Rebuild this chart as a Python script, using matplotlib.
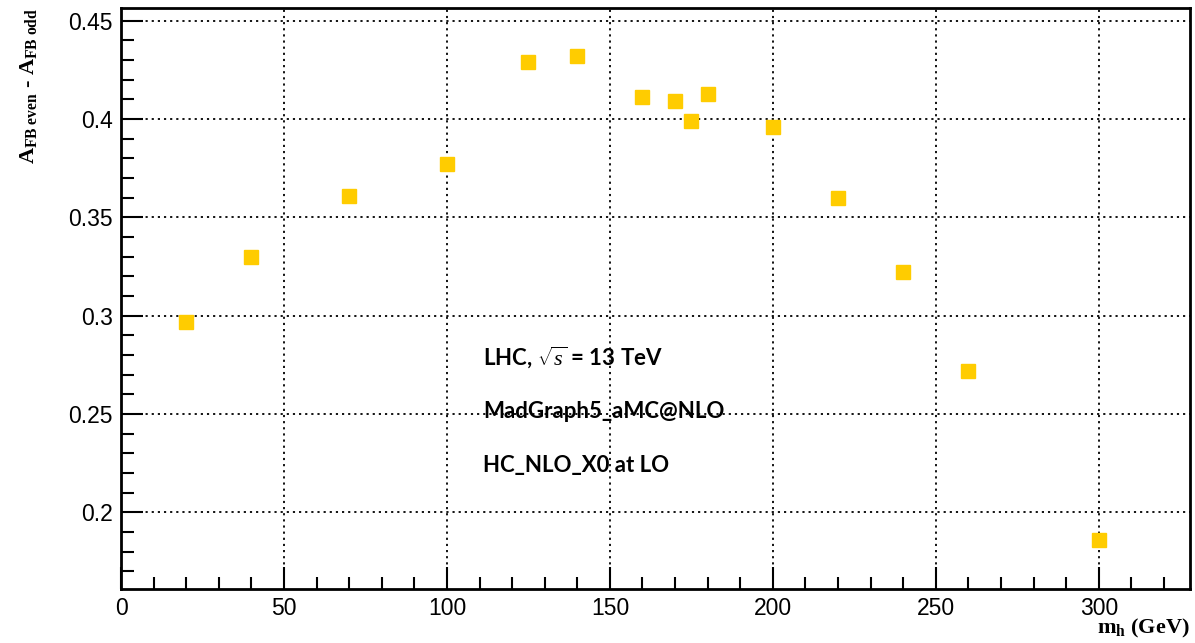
import matplotlib
matplotlib.use('Agg')
import matplotlib.pyplot as plt
from matplotlib.ticker import MultipleLocator

# Higgs mass points (GeV) and asymmetry difference
mass = [20, 40, 70, 100, 125, 140, 160, 170, 175, 180, 200, 220, 240, 260, 300]
afb_diff = [0.297, 0.330, 0.361, 0.377, 0.429, 0.432, 0.411, 0.409, 0.399,
            0.413, 0.396, 0.360, 0.322, 0.272, 0.186]

info_lines = ['LHC, $\\sqrt{s}$ = 13 TeV', 'MadGraph5_aMC@NLO', 'HC_NLO_X0 at LO']

plt.rcParams['font.family'] = 'Liberation Sans'
plt.rcParams['mathtext.fontset'] = 'custom'
plt.rcParams['mathtext.rm'] = 'Liberation Serif'
plt.rcParams['mathtext.bf'] = 'Liberation Serif:bold'
plt.rcParams['mathtext.it'] = 'Liberation Serif:italic'

fig = plt.figure(figsize=(11.95, 6.43), dpi=100)
ax = fig.add_axes([0.1013, 0.084, 0.8945, 0.9036])

ax.plot(mass, afb_diff, 's', color='#ffcc00', markersize=10, zorder=3)

ax.set_xlim(0, 328)
ax.set_ylim(0.161, 0.4565)
ax.xaxis.set_major_locator(MultipleLocator(50))
ax.xaxis.set_minor_locator(MultipleLocator(10))
ax.yaxis.set_minor_locator(MultipleLocator(0.01))
ax.set_yticks([0.2, 0.25, 0.3, 0.35, 0.4, 0.45])
ax.set_yticklabels(['0.2', '0.25', '0.3', '0.35', '0.4', '0.45'])

ax.grid(True, which='major', color='black', linestyle=(0, (1.2, 2.2)), linewidth=1.3)
ax.tick_params(which='both', direction='in', labelsize=16.5, width=1.5)
ax.tick_params(which='major', length=16)
ax.tick_params(which='minor', length=9)
ax.tick_params(axis='x', pad=6)
ax.tick_params(axis='y', pad=6)
for sp in ax.spines.values():
    sp.set_linewidth(2)

ax.set_ylabel(r'$\mathbf{A_{FB\ even}}$ - $\mathbf{A_{FB\ odd}}$', fontsize=16,
              fontweight='bold', family='Liberation Serif')
ax.yaxis.set_label_coords(-0.077, 1.0)
ax.yaxis.label.set_horizontalalignment('right')
ax.set_xlabel(r'$\mathbf{m_h}$ (GeV)', fontsize=16, fontweight='bold',
              family='Liberation Serif')
ax.xaxis.set_label_coords(1.0, -0.068)
ax.xaxis.label.set_horizontalalignment('right')
ax.xaxis.label.set_verticalalignment('center')

for i, line in enumerate(info_lines):
    ax.text(111, 0.279 - i * 0.0275, line, fontsize=16, fontweight='bold',
            family='Lato', va='center', ha='left')

fig.savefig('out.png', dpi=100)
